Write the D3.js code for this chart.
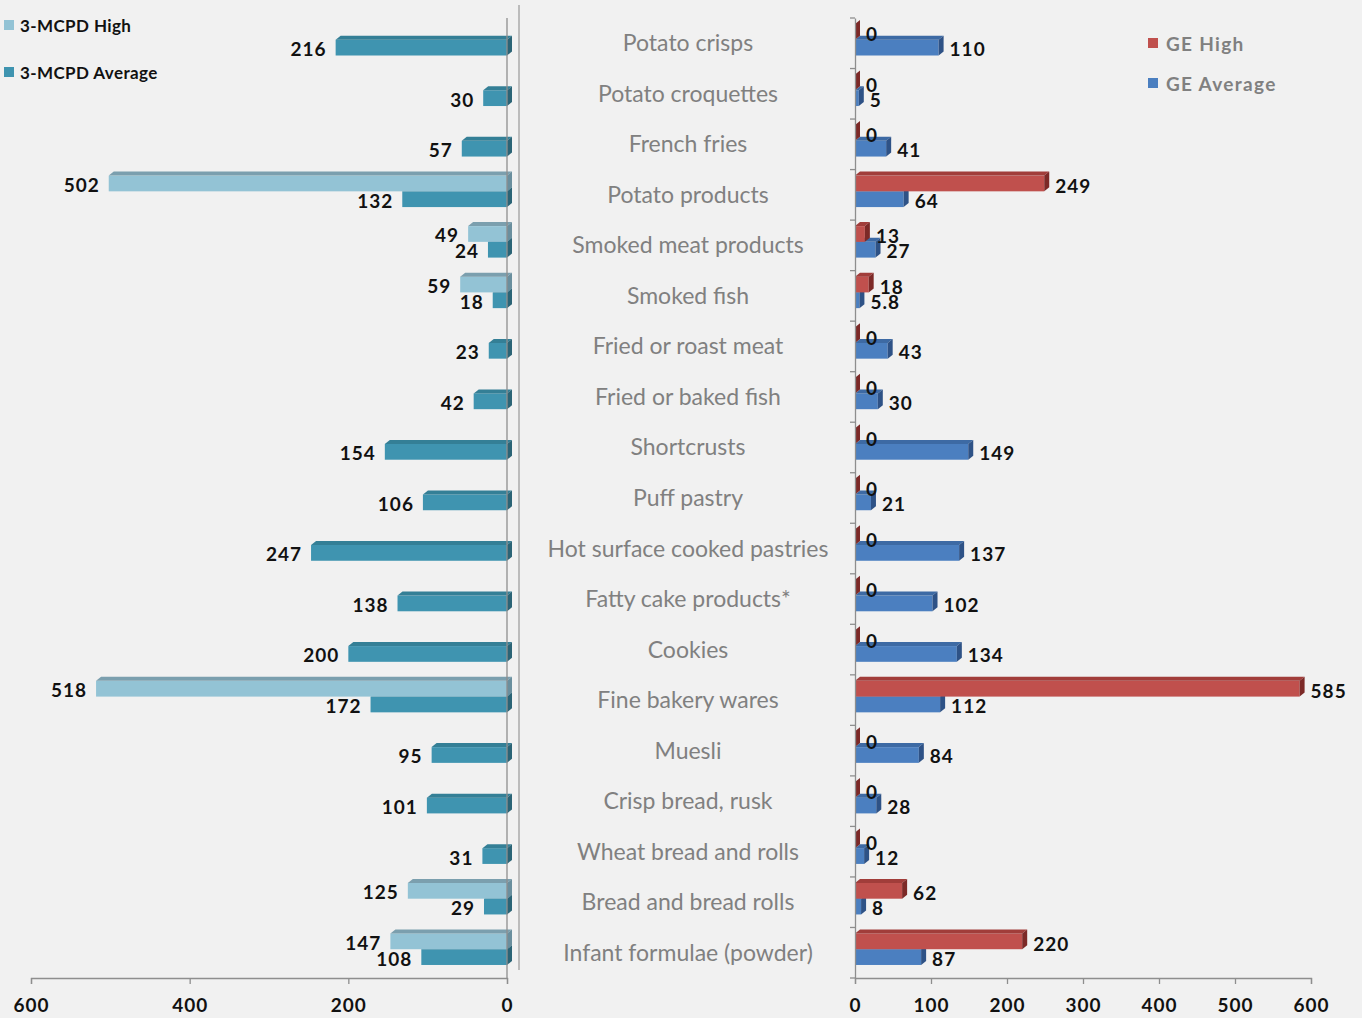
<!DOCTYPE html>
<html>
<head>
<meta charset="utf-8">
<script src="https://cdn.jsdelivr.net/npm/d3@7"></script>
<style>
  body { margin: 0; background: #f1f1f1; }
  svg { display: block; }
</style>
</head>
<body>
<script>
var width = 1362;
var height = 1018;

var categories = ['Potato crisps', 'Potato croquettes', 'French fries', 'Potato products',
  'Smoked meat products', 'Smoked fish', 'Fried or roast meat', 'Fried or baked fish',
  'Shortcrusts', 'Puff pastry', 'Hot surface cooked pastries', 'Fatty cake products*',
  'Cookies', 'Fine bakery wares', 'Muesli', 'Crisp bread, rusk', 'Wheat bread and rolls',
  'Bread and bread rolls', 'Infant formulae (powder)'];

// left side (null = no bar drawn)
var mcpdHigh = [null, null, null, 502, 49, 59, null, null, null, null, null, null, null, 518, null, null, null, 125, 147];
var mcpdAvg = [216, 30, 57, 132, 24, 18, 23, 42, 154, 106, 247, 138, 200, 172, 95, 101, 31, 29, 108];

// right side
var geHigh = [0, 0, 0, 249, 13, 18, 0, 0, 0, 0, 0, 0, 0, 585, 0, 0, 0, 62, 220];
var geAvg = [110, 5, 41, 64, 27, 5.8, 43, 30, 149, 21, 137, 102, 134, 112, 84, 28, 12, 8, 87];

var leftTicks = [600, 400, 200, 0];
var rightTicks = [0, 100, 200, 300, 400, 500, 600];

var colors = {
  mcpdHigh: { front: '#93c3d5', top: '#7b9fae', side: '#6a8f9e' },
  mcpdAvg: { front: '#3f94b0', top: '#347f96', side: '#2b6476' },
  geHigh: { front: '#c0504d', top: '#a13d3a', side: '#7c2927' },
  geAvg: { front: '#4b7fc0', top: '#3d6aa4', side: '#2e5286' }
};

var svg = d3.select('body').append('svg').attr('width', width).attr('height', height);
svg.append('rect').attr('width', width).attr('height', height).attr('fill', '#f1f1f1');

var xL = d3.scaleLinear().domain([600, 0]).range([31, 507]);
var xR = d3.scaleLinear().domain([0, 600]).range([855, 1311]);
var y = d3.scaleBand().domain(categories).range([18, 978]);
var ySub = d3.scaleBand().domain(['high', 'avg']).range([6, 37.5]);

var dx = 5, dy = 4;

// draw one 3d-ish bar between two x positions, side face on the right end
var bar3d = function(g, xa, xb, y0, h, c) {
  g.append('rect').attr('x', xa).attr('y', y0).attr('width', Math.max(0, xb - xa)).attr('height', h).attr('fill', c.front);
  g.append('polygon')
    .attr('points', [[xa, y0], [xa + dx, y0 - dy], [xb + dx, y0 - dy], [xb, y0]].join(' '))
    .attr('fill', c.top);
  g.append('polygon')
    .attr('points', [[xb, y0], [xb + dx, y0 - dy], [xb + dx, y0 + h - dy], [xb, y0 + h]].join(' '))
    .attr('fill', c.side);
};

var valueFont = "'Lato', 'Open Sans', sans-serif";

var barsL = svg.append('g');
var barsR = svg.append('g');

categories.forEach(function(cat, i) {
  var top = y(cat);
  var h = ySub.bandwidth();
  // left: average first, then high over it
  var ya = top + ySub('avg');
  bar3d(barsL, xL(mcpdAvg[i]), xL(0), ya, h, colors.mcpdAvg);
  if (mcpdHigh[i] !== null) {
    var yh = top + ySub('high');
    bar3d(barsL, xL(mcpdHigh[i]), xL(0), yh, h, colors.mcpdHigh);
  }
  // right
  bar3d(barsR, xR(0), xR(geAvg[i]), ya, h, colors.geAvg);
  bar3d(barsR, xR(0), xR(geHigh[i]), top + ySub('high'), h, colors.geHigh);
});

// value labels
var labels = svg.append('g')
  .attr('font-family', valueFont).attr('font-weight', 'bold').attr('font-size', 19)
  .attr('letter-spacing', 1)
  .attr('fill', '#111').attr('dominant-baseline', 'central');

categories.forEach(function(cat, i) {
  var top = y(cat);
  var h = ySub.bandwidth();
  labels.append('text').attr('x', xL(mcpdAvg[i]) - 9).attr('y', top + ySub('avg') + h / 2 + 1)
    .attr('text-anchor', 'end').text(mcpdAvg[i]);
  if (mcpdHigh[i] !== null) {
    labels.append('text').attr('x', xL(mcpdHigh[i]) - 9).attr('y', top + ySub('high') + h / 2 + 1)
      .attr('text-anchor', 'end').text(mcpdHigh[i]);
  }
  labels.append('text').attr('x', xR(geHigh[i]) + dx + 6).attr('y', top + ySub('high') + h / 2 + 2)
    .text(geHigh[i]);
  labels.append('text').attr('x', xR(geAvg[i]) + dx + 6).attr('y', top + ySub('avg') + h / 2 + 1)
    .text(geAvg[i]);
});

// category names in the middle
svg.append('g').selectAll('text').data(categories).enter().append('text')
  .attr('x', 688)
  .attr('y', function(d) { return y(d) + y.bandwidth() / 2 - 1; })
  .attr('text-anchor', 'middle').attr('dominant-baseline', 'central')
  .attr('font-family', "'Lato', sans-serif").attr('font-size', 23).attr('fill', '#808080')
  .text(function(d) { return d; });

// axes
var axisColor = '#8e8e8e';
var axL = svg.append('g').attr('transform', 'translate(0,978)')
  .call(d3.axisBottom(xL).tickValues(leftTicks).tickSize(6).tickPadding(15));
var axR = svg.append('g').attr('transform', 'translate(0,978)')
  .call(d3.axisBottom(xR).tickValues(rightTicks).tickSize(6).tickPadding(15));
[axL, axR].forEach(function(ax) {
  ax.select('.domain').attr('stroke', axisColor).attr('stroke-width', 1.3);
  ax.selectAll('.tick line').attr('stroke', axisColor).attr('stroke-width', 1.3);
  ax.selectAll('.tick text').attr('font-family', valueFont).attr('font-weight', 'bold')
    .attr('font-size', 19).attr('letter-spacing', 1).attr('fill', '#111');
});

// vertical axes
svg.append('line').attr('x1', xL(0)).attr('x2', xL(0)).attr('y1', 18).attr('y2', 978)
  .attr('stroke', axisColor).attr('stroke-width', 1.3);
svg.append('line').attr('x1', 519).attr('x2', 519).attr('y1', 5).attr('y2', 970)
  .attr('stroke', '#a0a0a0').attr('stroke-width', 1.3);

var ayR = svg.append('g').attr('transform', 'translate(' + xR(0) + ',0)')
  .call(d3.axisLeft(y).tickValues([]).tickSize(0));
ayR.select('.domain').attr('stroke', axisColor).attr('stroke-width', 1.3);
var bounds = categories.map(function(d) { return y(d); }).concat([978]);
svg.append('g').selectAll('line').data(bounds).enter().append('line')
  .attr('x1', xR(0) - 5).attr('x2', xR(0))
  .attr('y1', function(d) { return d; }).attr('y2', function(d) { return d; })
  .attr('stroke', axisColor).attr('stroke-width', 1.3);

// legends
var legL = svg.append('g').attr('font-family', valueFont).attr('font-weight', 'bold')
  .attr('font-size', 17).attr('letter-spacing', 0.4);
[['3-MCPD High', colors.mcpdHigh.front, 25], ['3-MCPD Average', colors.mcpdAvg.front, 72]].forEach(function(l) {
  legL.append('rect').attr('x', 4).attr('y', l[2] - 5).attr('width', 10).attr('height', 10).attr('fill', l[1]);
  legL.append('text').attr('x', 20).attr('y', l[2]).attr('dominant-baseline', 'central').attr('fill', '#111').text(l[0]);
});
var legR = svg.append('g').attr('font-family', valueFont).attr('font-weight', 'bold')
  .attr('font-size', 19).attr('letter-spacing', 1.3);
[['GE High', colors.geHigh.front, 43], ['GE Average', colors.geAvg.front, 83]].forEach(function(l) {
  legR.append('rect').attr('x', 1148).attr('y', l[2] - 5).attr('width', 10).attr('height', 10).attr('fill', l[1]);
  legR.append('text').attr('x', 1166).attr('y', l[2]).attr('dominant-baseline', 'central').attr('fill', '#808080').text(l[0]);
});
</script>
</body>
</html>
